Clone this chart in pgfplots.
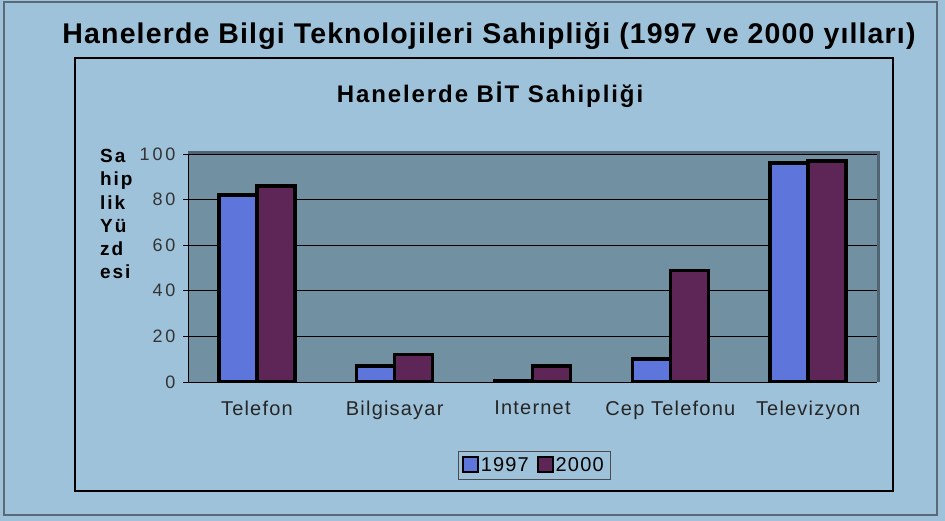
\documentclass[border=0pt]{standalone}
\usepackage{fontspec}
\setmainfont{Liberation Sans}
\newfontfamily\titlefont[LetterSpace=4]{Liberation Sans}
\newfontfamily\headfont[LetterSpace=8]{Liberation Sans}
\newfontfamily\catfont[LetterSpace=6]{Liberation Sans}
\newfontfamily\numfont[LetterSpace=16]{Liberation Sans}
\newfontfamily\ylabfont[LetterSpace=10]{Liberation Sans}
\newfontfamily\legfont[LetterSpace=6]{Liberation Sans}
\usepackage{pgfplots}
\pgfplotsset{compat=1.18}

\definecolor{outerbg}{RGB}{158,194,218}
\definecolor{plotbg}{RGB}{113,144,162}
\definecolor{edgeshadow}{RGB}{80,100,115}
\definecolor{c97}{RGB}{94,118,220}
\definecolor{c00}{RGB}{93,38,86}
\definecolor{framegray}{RGB}{90,105,120}

\begin{document}
\begin{tikzpicture}[x=1pt,y=1pt]
\fill[outerbg] (0,0) rectangle (945,521);
\draw[framegray, line width=2pt] (4,6) rectangle (937,519);
\draw[black, line width=2.5pt] (75,30) rectangle (893,463);
\node[font=\titlefont\bfseries\fontsize{28.5}{30}\selectfont] at (489,485) {Hanelerde Bilgi Teknolojileri Sahipliği (1997 ve 2000 yılları)};
\node[font=\headfont\bfseries\fontsize{24}{26}\selectfont] at (490,426) {Hanelerde BİT Sahipliği};
\node[align=left, anchor=north west, inner sep=0pt, font=\ylabfont\bfseries\fontsize{19}{23.3}\selectfont] at (100,372) {Sa\\hip\\lik\\Yü\\zd\\esi};

\begin{axis}[at={(188pt,139pt)}, anchor=south west, scale only axis,
 width=689pt, height=228pt,
 axis background/.style={fill=plotbg},
 ybar=0pt, bar width=38pt,
 xmin=-0.5, xmax=4.5, ymin=0, ymax=100,
 ytick={0,20,...,100}, xtick={0,...,4},
 xticklabels={Telefon,Bilgisayar,Internet,Cep Telefonu,Televizyon},
 extra x ticks={0.5,1.5,2.5,3.5,4.5}, extra x tick labels={},
 extra x tick style={major tick length=5pt, tick align=outside, tick style={black}},
 x tick style={draw=none},
 y tick style={black, line width=0.8pt},
 major tick length=5pt, tick align=outside,
 ymajorgrids, grid style={black, line width=0.8pt},
 axis x line*=bottom, axis y line*=left,
 axis line style={black, line width=0.8pt, -},
 /pgf/number format/assume math mode=true,
 yticklabel style={font=\numfont\fontsize{18}{20}\selectfont, color=black!80, xshift=-4pt},
 xticklabel style={font=\catfont\fontsize{20}{22}\selectfont, color=black!85, yshift=-10pt},
 legend style={at={(axis description cs:0.502,-0.365)}, anchor=center, draw=black!70, fill=none,
   font=\legfont\fontsize{20}{22}\selectfont, inner sep=4pt, /tikz/every even column/.append style={column sep=6pt}},
 legend columns=2,
 legend image code/.code={\draw[#1, draw=black, line width=1.8pt] (0pt,-7pt) rectangle (15pt,8pt);},
]
\addplot[fill=c97, draw=black, line width=3.5pt] coordinates {(0,82) (1,7) (2,0.5) (3,10) (4,96)};
\addplot[fill=c00, draw=black, line width=3.5pt] coordinates {(0,86) (1,12) (2,7) (3,49) (4,97)};
\legend{1997,2000}
\end{axis}
\draw[edgeshadow, line width=3pt] (188,368.5) -- (878.5,368.5) -- (878.5,139);
\end{tikzpicture}
\end{document}
